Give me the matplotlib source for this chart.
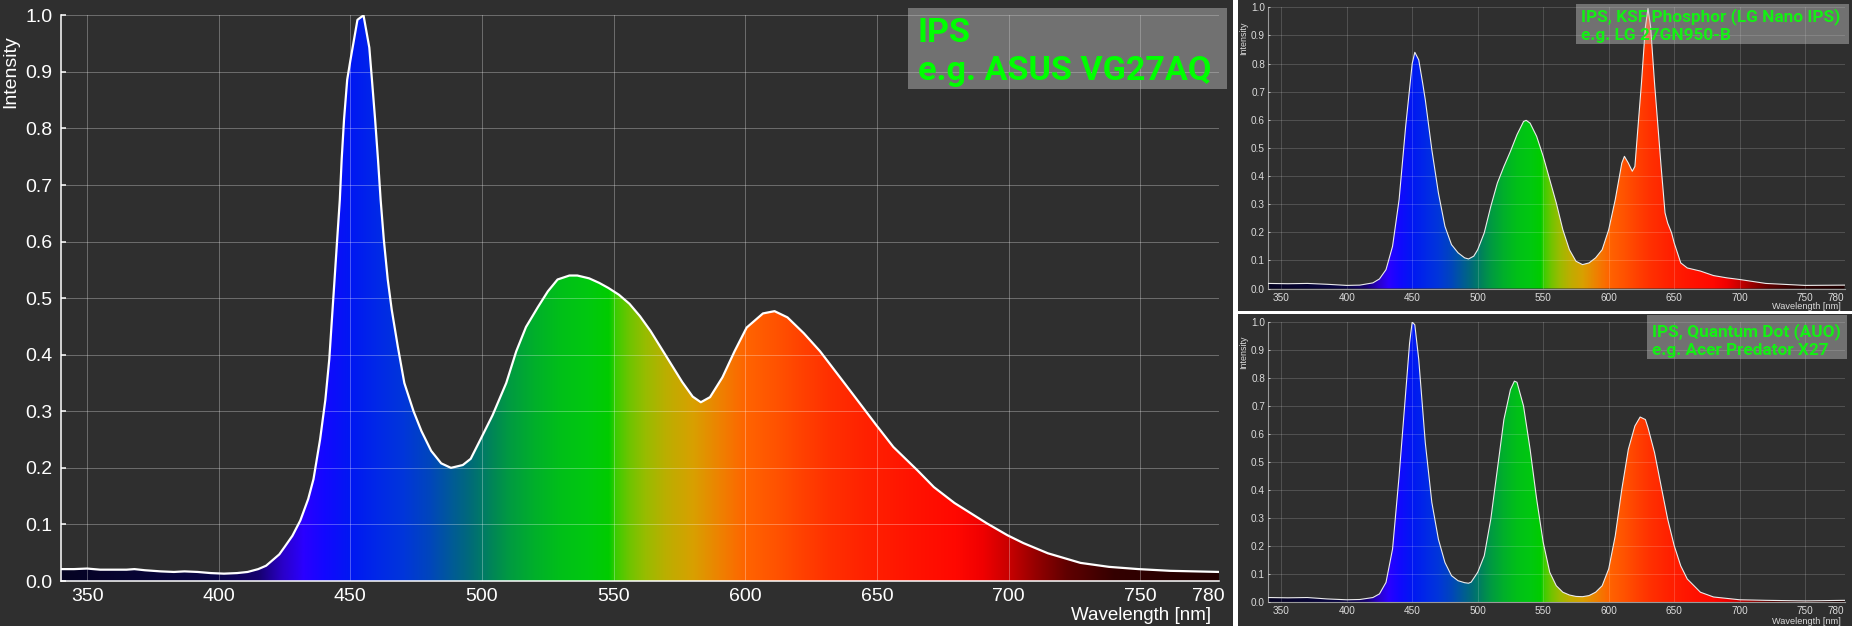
import numpy as np
import matplotlib
matplotlib.use("Agg")
import matplotlib.pyplot as plt
from matplotlib.patches import Rectangle, Polygon
from matplotlib.colors import to_rgb
import matplotlib.transforms as mtransforms

# ---------------- data ----------------
wl_main = [340, 345, 350, 355, 360, 365, 368, 372, 378, 383, 387, 392, 397, 402, 407, 411, 415, 418, 420, 423,
           425, 428, 431, 434, 436, 438.5, 440.5, 442, 443, 444, 445, 446, 446.7, 447.6, 448.8, 450, 452.7, 455,
           457.2, 458.2, 459.4, 460.5, 461.5, 462.7, 464.2, 465.7, 468, 470.5, 474, 477, 480.7, 484.5, 488.2,
           492.7, 495.7, 499.5, 504, 509.2, 513, 516.7, 521.2, 525, 528.7, 533.2, 536.2, 540.7, 544.5, 548, 552,
           556, 560, 564, 568, 572, 576, 580, 583.1, 586.6, 591.3, 595.9, 600.5, 606.7, 611.1, 616, 622.2, 628.4,
           637.6, 650, 656.2, 665.5, 671.6, 679.4, 691.7, 699.5, 705.6, 714.9, 727.3, 738.1, 749.4, 761.3, 780]
int_main = [.021, .021, .022, .020, .020, .020, .021, .019, .017, .016, .017, .016, .014, .013, .014, .016, .021,
            .027, .035, .047, .060, .080, .107, .145, .180, .250, .320, .392, .463, .533, .604, .674, .745, .816,
            .886, .920, .992, 1.0, .943, .886, .816, .745, .674, .604, .533, .480, .415, .350, .300, .265, .230,
            .208, .200, .205, .216, .251, .293, .350, .406, .449, .484, .512, .533, .540, .540, .535, .527, .518,
            .506, .490, .468, .442, .412, .382, .352, .326, .316, .325, .360, .406, .448, .473, .477, .466, .438,
            .406, .350, .274, .237, .195, .166, .138, .102, .081, .067, .049, .032, .025, .021, .018, .016]

wl_ksf = [340, 355, 370, 385, 400, 410, 420, 425, 430, 435, 440, 445, 450, 452, 455, 458, 460, 465, 470, 475,
          480, 485, 490, 493, 497, 500, 505, 510, 515, 520, 525, 530, 535, 537, 540, 545, 550, 555, 560, 565,
          570, 575, 580, 585, 590, 595, 600, 605, 610, 612, 615, 618, 620, 622, 625, 628, 630, 632, 635, 640,
          643, 645, 648, 650, 655, 660, 670, 680, 690, 700, 720, 750, 780]
int_ksf = [0.018, 0.017, 0.018, 0.015, 0.011, 0.012, 0.02, 0.034, 0.067, 0.15, 0.316, 0.576, 0.80, 0.84, 0.813,
           0.73, 0.671, 0.493, 0.34, 0.221, 0.156, 0.127, 0.109, 0.105, 0.115, 0.138, 0.198, 0.292, 0.375, 0.434,
           0.488, 0.547, 0.594, 0.598, 0.588, 0.541, 0.47, 0.387, 0.304, 0.209, 0.138, 0.097, 0.085, 0.091, 0.109,
           0.138, 0.209, 0.316, 0.446, 0.47, 0.446, 0.417, 0.434, 0.553, 0.73, 0.93, 0.996, 0.93, 0.73, 0.434,
           0.269, 0.233, 0.198, 0.162, 0.091, 0.073, 0.062, 0.046, 0.038, 0.032, 0.018, 0.011, 0.012]

wl_qd = [340, 355, 370, 385, 400, 410, 420, 425, 430, 435, 440, 445, 448, 450, 452, 455, 458, 460, 465, 470,
         475, 480, 485, 490, 493, 495, 500, 505, 510, 515, 520, 525, 528, 530, 535, 540, 545, 550, 555, 560,
         565, 570, 575, 580, 585, 590, 595, 600, 605, 610, 615, 620, 624, 628, 630, 635, 640, 645, 650, 655,
         660, 670, 680, 700, 720, 750, 780]
int_qd = [0.017, 0.016, 0.017, 0.012, 0.009, 0.01, 0.017, 0.03, 0.071, 0.19, 0.45, 0.747, 0.925, 1.0, 0.99,
          0.866, 0.688, 0.569, 0.356, 0.225, 0.142, 0.095, 0.077, 0.07, 0.068, 0.072, 0.107, 0.166, 0.297, 0.474,
          0.652, 0.759, 0.789, 0.785, 0.70, 0.546, 0.368, 0.214, 0.107, 0.059, 0.036, 0.026, 0.021, 0.02, 0.024,
          0.036, 0.059, 0.119, 0.237, 0.403, 0.546, 0.629, 0.661, 0.652, 0.623, 0.534, 0.415, 0.297, 0.202, 0.13,
          0.083, 0.036, 0.019, 0.009, 0.007, 0.005, 0.007]

x_ticks = [350, 400, 450, 500, 550, 600, 650, 700, 750, 780]
x_ticklabels = ["350", "400", "450", "500", "550", "600", "650", "700", "750", "780"]
y_ticks = [0.0, 0.1, 0.2, 0.3, 0.4, 0.5, 0.6, 0.7, 0.8, 0.9, 1.0]
y_ticklabels = ["0.0", "0.1", "0.2", "0.3", "0.4", "0.5", "0.6", "0.7", "0.8", "0.9", "1.0"]

main_title = ["IPS", "e.g. ASUS VG27AQ"]
ksf_title = ["IPS, KSF Phosphor (LG Nano IPS)", "e.g. LG 27GN950-B"]
qd_title = ["IPS, Quantum Dot (AUO)", "e.g. Acer Predator X27"]
x_label = "Wavelength [nm]"
y_label = "Intensity"

# spectrum colour stops (styling)
spec_nm = [340, 400, 415, 424, 432, 440, 450, 460, 470, 480, 488, 495, 500, 505, 510, 520, 530, 540, 548,
           551, 556, 562, 570, 580, 590, 600, 612, 622, 632, 645, 662, 680, 690, 700, 710, 722, 740, 780]
spec_col = ["#050322", "#0a0648", "#160070", "#2a00c8", "#2a00ff", "#1208ff", "#0018f2", "#0028e8", "#0036da",
            "#0046bc", "#005a98", "#006a7a", "#007a66", "#008a52", "#009a42", "#00b02a", "#00c018", "#00c810",
            "#00cc00", "#40cc00", "#70c400", "#98bc00", "#bcae00", "#d8a000", "#ee8200", "#ff6400", "#ff5200",
            "#ff4000", "#ff3000", "#ff2200", "#ff1400", "#ff0800", "#f00000", "#c80000", "#960000", "#600000",
            "#340000", "#200000"]

# ---------------- figure ----------------
W, H = 1852, 626
BG = "#2f2f2f"
plt.rcParams["font.family"] = ["Liberation Sans", "DejaVu Sans"]
fig = plt.figure(figsize=(W / 100, H / 100), dpi=100, facecolor=BG)


def rect_px(l, t, r, b):
    return [l / W, 1 - b / H, (r - l) / W, (b - t) / H]


def fx(x):
    return x / W


def fy(y):
    return 1 - y / H


xs = np.linspace(340, 780, 1101)
rgb = np.array([to_rgb(c) for c in spec_col])
grad = np.stack([np.interp(xs, spec_nm, rgb[:, k]) for k in range(3)], axis=-1)[None, :, :]


def panel(rect, wl, vals, big):
    ax = fig.add_axes(rect)
    ax.set_facecolor(BG)
    im = ax.imshow(grad, extent=[340, 780, 0, 1], aspect="auto", origin="lower",
                   interpolation="bilinear", zorder=1)
    verts = [(wl[0], 0)] + list(zip(wl, vals)) + [(wl[-1], 0)]
    poly = Polygon(verts, closed=True, facecolor="none", edgecolor="none", transform=ax.transData)
    ax.add_patch(poly)
    im.set_clip_path(poly)
    ax.plot(wl, vals, color="white" if big else "#ececec", lw=1.6 if big else 0.8, zorder=3,
            solid_joinstyle="round")
    ax.set_xlim(340, 780)
    ax.set_ylim(0, 1)
    ax.set_xticks(x_ticks)
    ax.set_xticklabels(x_ticklabels)
    ax.set_yticks(y_ticks)
    ax.set_yticklabels(y_ticklabels)
    ax.set_axisbelow(False)
    for s in ("top", "right"):
        ax.spines[s].set_visible(False)
    if big:
        ax.grid(True, color="white", alpha=0.29, lw=0.75)
        for s in ("left", "bottom"):
            ax.spines[s].set_color("white")
            ax.spines[s].set_linewidth(1.1)
        ax.tick_params(axis="y", direction="in", length=3.6, width=1.1, colors="white",
                       labelsize=14, pad=6)
        ax.tick_params(axis="x", length=0, colors="white", labelsize=14, pad=5)
        shift = -11
    else:
        ax.grid(True, color="white", alpha=0.16, lw=0.75)
        for s in ("left", "bottom"):
            ax.spines[s].set_color("#9a9a9a")
            ax.spines[s].set_linewidth(0.8)
        ax.tick_params(axis="y", direction="in", length=1.5, width=0.6, colors="#dcdcdc",
                       labelsize=7.2, pad=2.2)
        ax.tick_params(axis="x", length=0, colors="#dcdcdc", labelsize=7.2, pad=3)
        shift = -9
    lbls = ax.get_xticklabels()
    lbls[-1].set_transform(lbls[-1].get_transform()
                           + mtransforms.ScaledTranslation(shift / 100, 0, fig.dpi_scale_trans))
    return ax


ax_main = panel(rect_px(60.7, 15.3, 1219.3, 581), wl_main, int_main, True)
ax_ksf = panel(rect_px(1268.1, 7.3, 1844.5, 288.5), wl_ksf, int_ksf, False)
ax_qd = panel(rect_px(1268.1, 322, 1844.5, 602.3), wl_qd, int_qd, False)

# axis labels
fig.text(fx(11), fy(72), y_label, rotation=90, ha="center", va="center", color="white", fontsize=14)
fig.text(fx(1210.7), fy(615), x_label, ha="right", va="center", color="white", fontsize=13.5)
for ylab_c, xlab_c in [(38.5, 306.7), (352.5, 621)]:
    fig.text(fx(1243.5), fy(ylab_c), y_label, rotation=90, ha="center", va="center",
             color="#dcdcdc", fontsize=6.4)
    fig.text(fx(1840.7), fy(xlab_c), x_label, ha="right", va="center", color="#dcdcdc", fontsize=6.6)

# separators
fig.add_artist(Rectangle((fx(1233), 0), 5 / W, 1, transform=fig.transFigure, facecolor="white",
                         edgecolor="none", zorder=5))
fig.add_artist(Rectangle((fx(1238), fy(314)), (W - 1238) / W, 3 / H, transform=fig.transFigure,
                         facecolor="white", edgecolor="none", zorder=5))


# annotation boxes
def box(l, t, r, b):
    fig.add_artist(Rectangle((fx(l), fy(b)), (r - l) / W, (b - t) / H, transform=fig.transFigure,
                             facecolor="#c2c2c2", alpha=0.45, edgecolor="none", zorder=6))


box(908, 8, 1227, 89.4)
fig.text(fx(917.5), fy(42), main_title[0], ha="left", va="baseline", color="#00ff00",
         fontsize=24.6, fontweight="bold", family="Roboto", zorder=7)
fig.text(fx(917.5), fy(80), main_title[1], ha="left", va="baseline", color="#00ff00",
         fontsize=24.6, fontweight="bold", family="Roboto", zorder=7)

box(1576, 4, 1848.5, 44.3)
fig.text(fx(1581), fy(21.7), ksf_title[0], ha="left", va="baseline", color="#14f014",
         fontsize=12.4, fontweight="bold", family="Roboto", zorder=7)
fig.text(fx(1581), fy(40), ksf_title[1], ha="left", va="baseline", color="#14f014",
         fontsize=12.4, fontweight="bold", family="Roboto", zorder=7)

box(1647, 315.5, 1847, 359.3)
fig.text(fx(1652), fy(336.5), qd_title[0], ha="left", va="baseline", color="#14f014",
         fontsize=12.4, fontweight="bold", family="Roboto", zorder=7)
fig.text(fx(1652), fy(355), qd_title[1], ha="left", va="baseline", color="#14f014",
         fontsize=12.4, fontweight="bold", family="Roboto", zorder=7)

fig.savefig("out.png", dpi=100, facecolor=BG)
